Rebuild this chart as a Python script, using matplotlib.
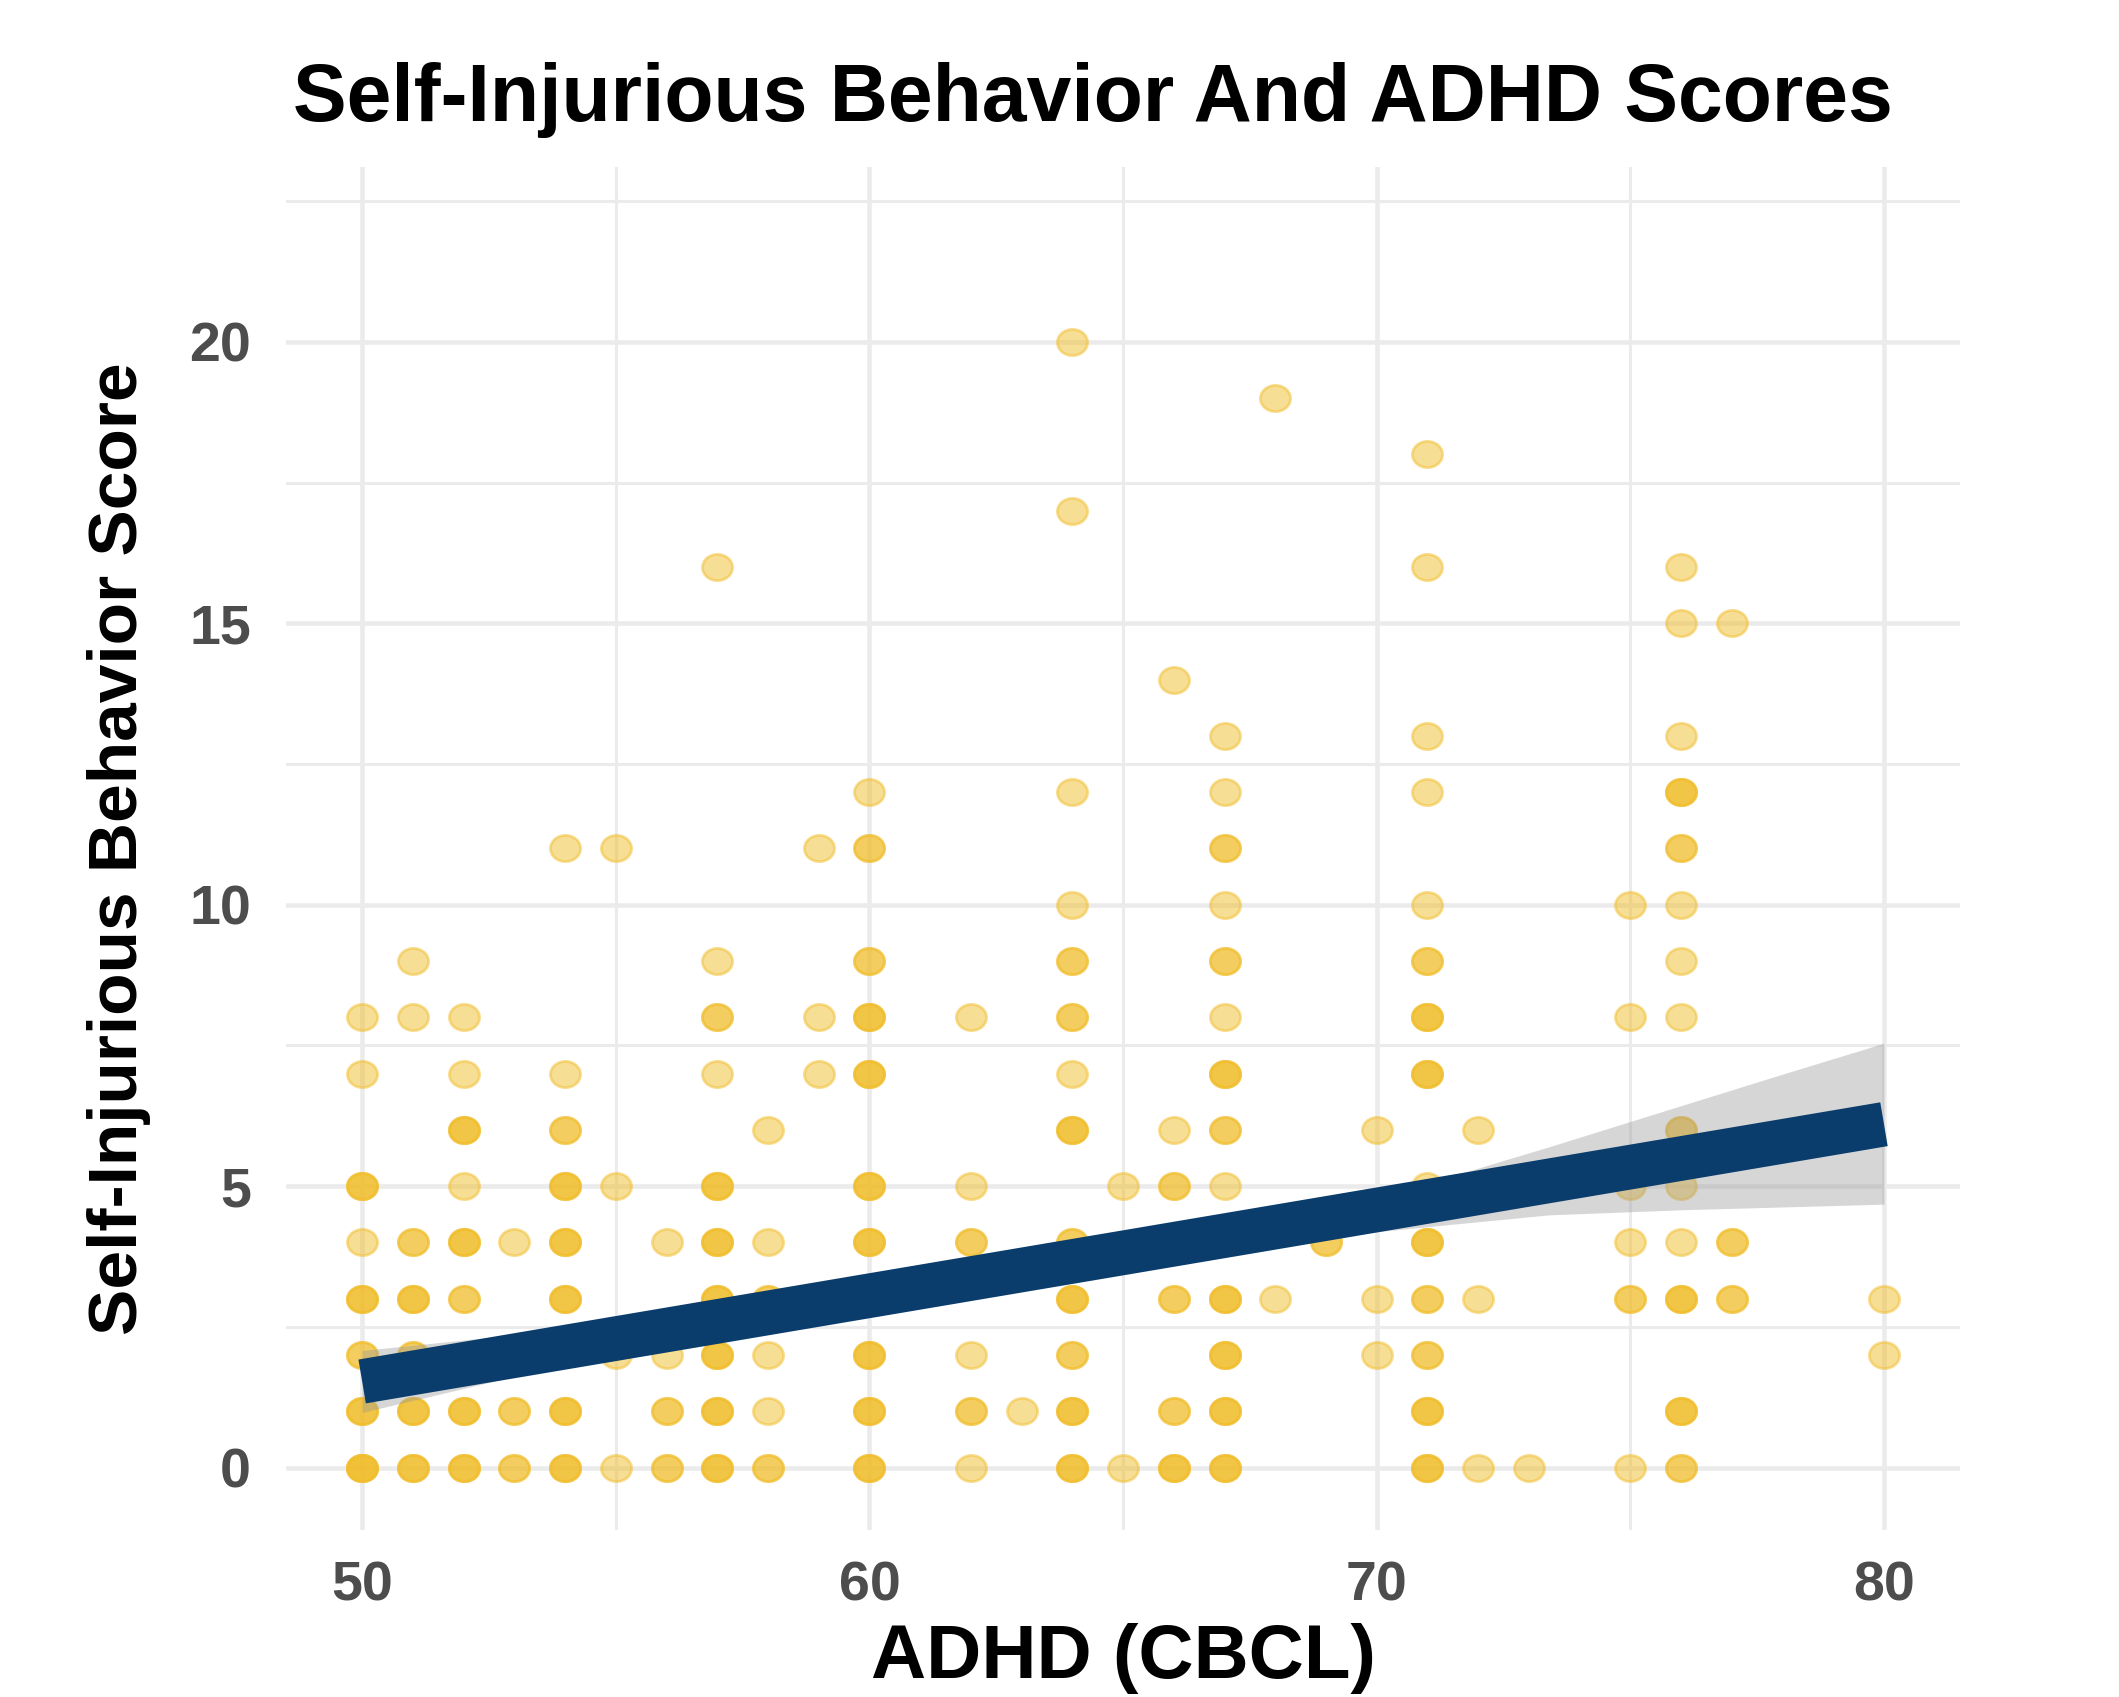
import numpy as np
import matplotlib
matplotlib.use("Agg")
import matplotlib.pyplot as plt
from matplotlib.path import Path

plt.rcParams['font.family'] = ['Liberation Sans', 'DejaVu Sans']

# each entry: ADHD score, self-injurious behaviour score, number of children at that spot
adhd = [50, 50, 50, 50, 50, 50, 50, 50,
        51, 51, 51, 51, 51, 51, 51,
        52, 52, 52, 52, 52, 52, 52, 52,
        53, 53, 53,
        54, 54, 54, 54, 54, 54, 54, 54,
        55, 55, 55, 55,
        56, 56, 56, 56,
        57, 57, 57, 57, 57, 57, 57, 57, 57, 57,
        58, 58, 58, 58, 58, 58,
        59, 59, 59,
        60, 60, 60, 60, 60, 60, 60, 60, 60, 60,
        62, 62, 62, 62, 62, 62,
        63,
        64, 64, 64, 64, 64, 64, 64, 64, 64, 64, 64, 64, 64,
        65, 65,
        66, 66, 66, 66, 66, 66,
        67, 67, 67, 67, 67, 67, 67, 67, 67, 67, 67, 67, 67,
        68, 68,
        69,
        70, 70, 70,
        71, 71, 71, 71, 71, 71, 71, 71, 71, 71, 71, 71, 71, 71,
        72, 72, 72,
        73,
        75, 75, 75, 75, 75, 75,
        76, 76, 76, 76, 76, 76, 76, 76, 76, 76, 76, 76, 76, 76,
        77, 77, 77,
        80, 80]
sib = [8, 7, 5, 4, 3, 2, 1, 0,
       9, 8, 4, 3, 2, 1, 0,
       8, 7, 6, 5, 4, 3, 1, 0,
       4, 1, 0,
       11, 7, 6, 5, 4, 3, 1, 0,
       11, 5, 2, 0,
       4, 2, 1, 0,
       16, 9, 8, 7, 5, 4, 3, 2, 1, 0,
       6, 4, 3, 2, 1, 0,
       11, 8, 7,
       12, 11, 9, 8, 7, 5, 4, 2, 1, 0,
       8, 5, 4, 2, 1, 0,
       1,
       20, 17, 12, 10, 9, 8, 7, 6, 4, 3, 2, 1, 0,
       5, 0,
       14, 6, 5, 3, 1, 0,
       13, 12, 11, 10, 9, 8, 7, 6, 5, 3, 2, 1, 0,
       19, 3,
       4,
       6, 3, 2,
       18, 16, 13, 12, 10, 9, 8, 7, 5, 4, 3, 2, 1, 0,
       6, 3, 0,
       0,
       10, 8, 5, 4, 3, 0,
       16, 15, 13, 12, 11, 10, 9, 8, 6, 5, 4, 3, 1, 0,
       15, 4, 3,
       3, 2]
count = [1, 1, 3, 1, 3, 2, 3, 4,
         1, 1, 2, 3, 2, 3, 3,
         1, 1, 3, 1, 3, 2, 3, 3,
         1, 2, 2,
         1, 1, 2, 3, 3, 3, 3, 3,
         1, 1, 1, 1,
         1, 1, 2, 2,
         1, 1, 2, 1, 3, 3, 3, 3, 3, 3,
         1, 1, 2, 1, 1, 2,
         1, 1, 1,
         1, 2, 2, 3, 3, 3, 3, 3, 3, 3,
         1, 1, 2, 1, 2, 1,
         1,
         1, 1, 1, 1, 2, 2, 1, 3, 2, 3, 2, 3, 3,
         1, 1,
         1, 1, 2, 2, 2, 3,
         1, 1, 2, 1, 2, 1, 3, 2, 1, 3, 3, 3, 3,
         1, 1,
         2,
         1, 1, 1,
         1, 1, 1, 1, 1, 2, 3, 3, 1, 3, 2, 2, 3, 3,
         1, 1, 1,
         1,
         1, 1, 1, 1, 2, 1,
         1, 1, 1, 3, 2, 1, 1, 1, 2, 1, 1, 3, 3, 2,
         1, 2, 2,
         1, 1]

# fitted trend line and its confidence band
fit_adhd = [50, 80]
fit_sib = [1.53, 6.10]
band_adhd = [50, 53, 56, 60, 65, 69, 71, 73.4, 76, 78, 80]
band_low = [0.98, 1.62, 2.14, 2.77, 3.53, 4.10, 4.28, 4.49, 4.58, 4.63, 4.68]
band_high = [2.08, 2.36, 2.74, 3.33, 4.09, 4.72, 5.05, 5.70, 6.43, 6.99, 7.54]

x = np.repeat(np.array(adhd, dtype=float), count)
y = np.repeat(np.array(sib, dtype=float), count)

fig = plt.figure(figsize=(2119 / 200, 1697 / 200), dpi=200)
ax = fig.add_axes([0.1350, 0.0987, 0.7900, 0.8027])

circ = Path.unit_circle()
oval = Path(circ.vertices * np.array([1.15, 1.0]), circ.codes)

ax.scatter(x, y, marker=oval, s=118, color='#F1BE2C', alpha=0.5,
           linewidths=1.0, zorder=2)
ax.fill_between(band_adhd, band_low, band_high, color='#999999',
                alpha=0.4, linewidth=0, zorder=3)
ax.plot(fit_adhd, fit_sib, color='#0A3C6C', linewidth=16, solid_capstyle='butt',
        zorder=4)

ax.set_xlim(48.5, 81.5)
ax.set_ylim(-1.1, 23.1)
ax.set_xticks([50, 60, 70, 80])
ax.set_xticks([55, 65, 75], minor=True)
ax.set_yticks([0, 5, 10, 15, 20])
ax.set_yticks([2.5, 7.5, 12.5, 17.5, 22.5], minor=True)
ax.grid(which='major', color='#EBEBEB', linewidth=1.65)
ax.grid(which='minor', color='#EBEBEB', linewidth=1.1)
ax.set_axisbelow(True)
for sp in ax.spines.values():
    sp.set_visible(False)
ax.tick_params(which='both', length=0)
ax.tick_params(axis='x', pad=11.0, labelsize=20, labelcolor='#4D4D4D')
ax.tick_params(axis='y', pad=12.6, labelsize=20, labelcolor='#4D4D4D')
for lab in ax.get_xticklabels() + ax.get_yticklabels():
    lab.set_fontweight('bold')

fig.text(0.5158, 1 - 121 / 1697, 'Self-Injurious Behavior And ADHD Scores',
         ha='center', va='baseline', fontsize=29, fontweight='bold')
fig.text(0.530, 1 - 1678 / 1697, 'ADHD (CBCL)', ha='center', va='baseline',
         fontsize=27.5, fontweight='bold')
fig.text(119 / 2119, 1 - 849 / 1697, 'Self-Injurious Behavior Score',
         rotation=90, ha='center', va='center', fontsize=25, fontweight='bold')

fig.savefig('out.png', dpi=200)
